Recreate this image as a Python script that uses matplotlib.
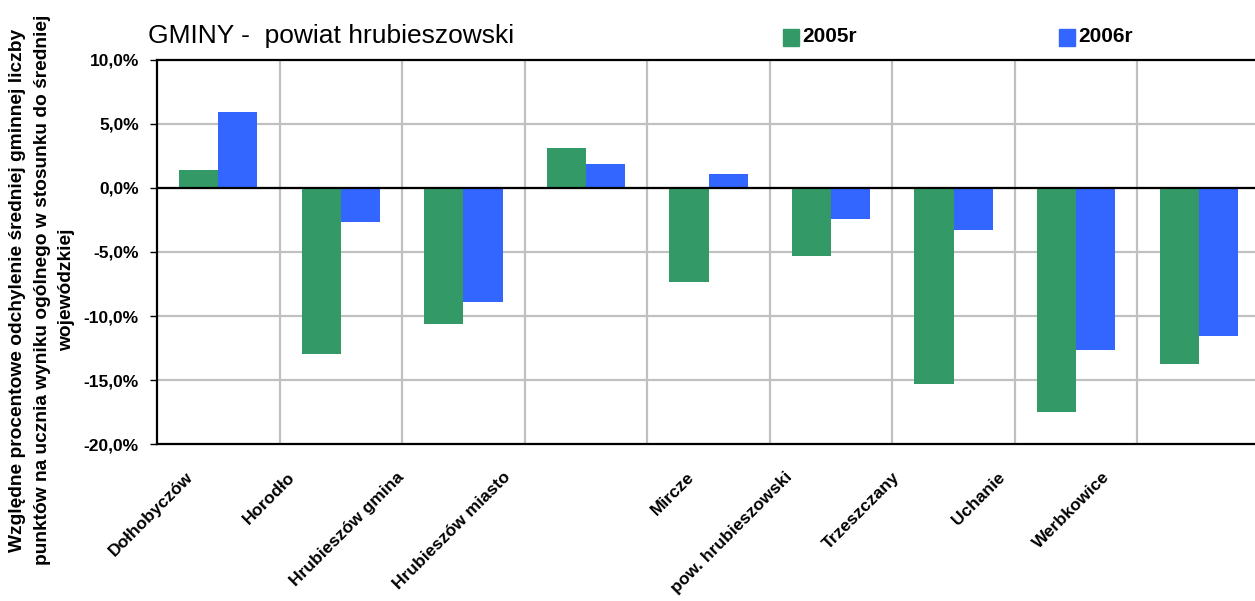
import matplotlib
matplotlib.use("Agg")
import matplotlib.pyplot as plt
from matplotlib.transforms import ScaledTranslation
from matplotlib.ticker import FuncFormatter, MultipleLocator
import numpy as np

# dane (w %)
gminy = ["Dołhobyczów", "Horodło", "Hrubieszów gmina", "Hrubieszów miasto",
         "Mircze", "pow. hrubieszowski", "Trzeszczany", "Uchanie", "Werbkowice"]
r2005 = [1.4, -13.0, -10.65, 3.13, -7.34, -5.3, -15.32, -17.5, -13.76]
r2006 = [5.95, -2.66, -8.93, 1.88, 1.1, -2.4, -3.26, -12.66, -11.56]

plt.rcParams['font.family'] = ['Liberation Sans', 'DejaVu Sans']

fig = plt.figure(figsize=(12.55, 6.01), dpi=100)
ax = fig.add_axes([0.1251, 0.2612, 0.8789, 0.639])

x = np.arange(len(gminy))
szer = 0.32
ax.bar(x - szer / 2, r2005, szer, color="#339966", zorder=3)
ax.bar(x + szer / 2, r2006, szer, color="#3366FF", zorder=3)

ax.set_xlim(-0.5, len(gminy) - 0.5)
ax.set_ylim(-20, 10)
ax.yaxis.set_major_locator(MultipleLocator(5))
ax.yaxis.set_major_formatter(FuncFormatter(lambda v, p: f"{v:.1f}%".replace(".", ",")))

# siatka
for v in np.arange(-15, 10, 5):
    ax.axhline(v, color="#c0c0c0", lw=1.6, zorder=1)
for b in np.arange(0.5, len(gminy) - 0.5, 1):
    ax.axvline(b, color="#c0c0c0", lw=1.6, zorder=1)
ax.axhline(0, color="black", lw=1.6, zorder=4)

for s in ["left", "top", "bottom"]:
    ax.spines[s].set_color("black")
    ax.spines[s].set_linewidth(1.6)
ax.spines["right"].set_visible(False)

ax.tick_params(axis="y", direction="out", length=5, width=1, labelsize=12.5, pad=8)
for t in ax.get_yticklabels():
    t.set_fontweight("bold")

ax.set_xticks(x)
ax.set_xticklabels(gminy, rotation=45, ha="right", va="center",
                   rotation_mode="anchor", fontsize=12.5, fontweight="bold")
ax.tick_params(axis="x", length=0, pad=22)
# przesuniecia etykiet jak w oryginale (px)
shift = [-28, -48, -62, -78, -17, -41, -56, -74, -92]
for t, dx in zip(ax.get_xticklabels(), shift):
    t.set_transform(t.get_transform() + ScaledTranslation(dx / 100, 0, fig.dpi_scale_trans))

fig.text(0.0335, 0.5175,
         "Względne procentowe odchylenie średniej gminnej liczby\n"
         "punktów na ucznia wyniku ogólnego w stosunku do średniej\n"
         "wojewódzkiej",
         rotation=90, ha="center", va="center", multialignment="center",
         fontsize=13.8, fontweight="bold", linespacing=1.55)

fig.text(148 / 1255, 1 - 36 / 601, "GMINY -  powiat hrubieszowski",
         fontsize=19, ha="left", va="center")

# legenda
for lx, kolor, nazwa in [(783, "#339966", "2005r"), (1059, "#3366FF", "2006r")]:
    fig.patches.append(plt.Rectangle((lx / 1255, 1 - 46 / 601), 16 / 1255, 17 / 601,
                                     transform=fig.transFigure, color=kolor))
    fig.text((lx + 19) / 1255, 1 - 37 / 601, nazwa, fontsize=15,
             fontweight="bold", ha="left", va="center")

fig.savefig("out.png", dpi=100)
